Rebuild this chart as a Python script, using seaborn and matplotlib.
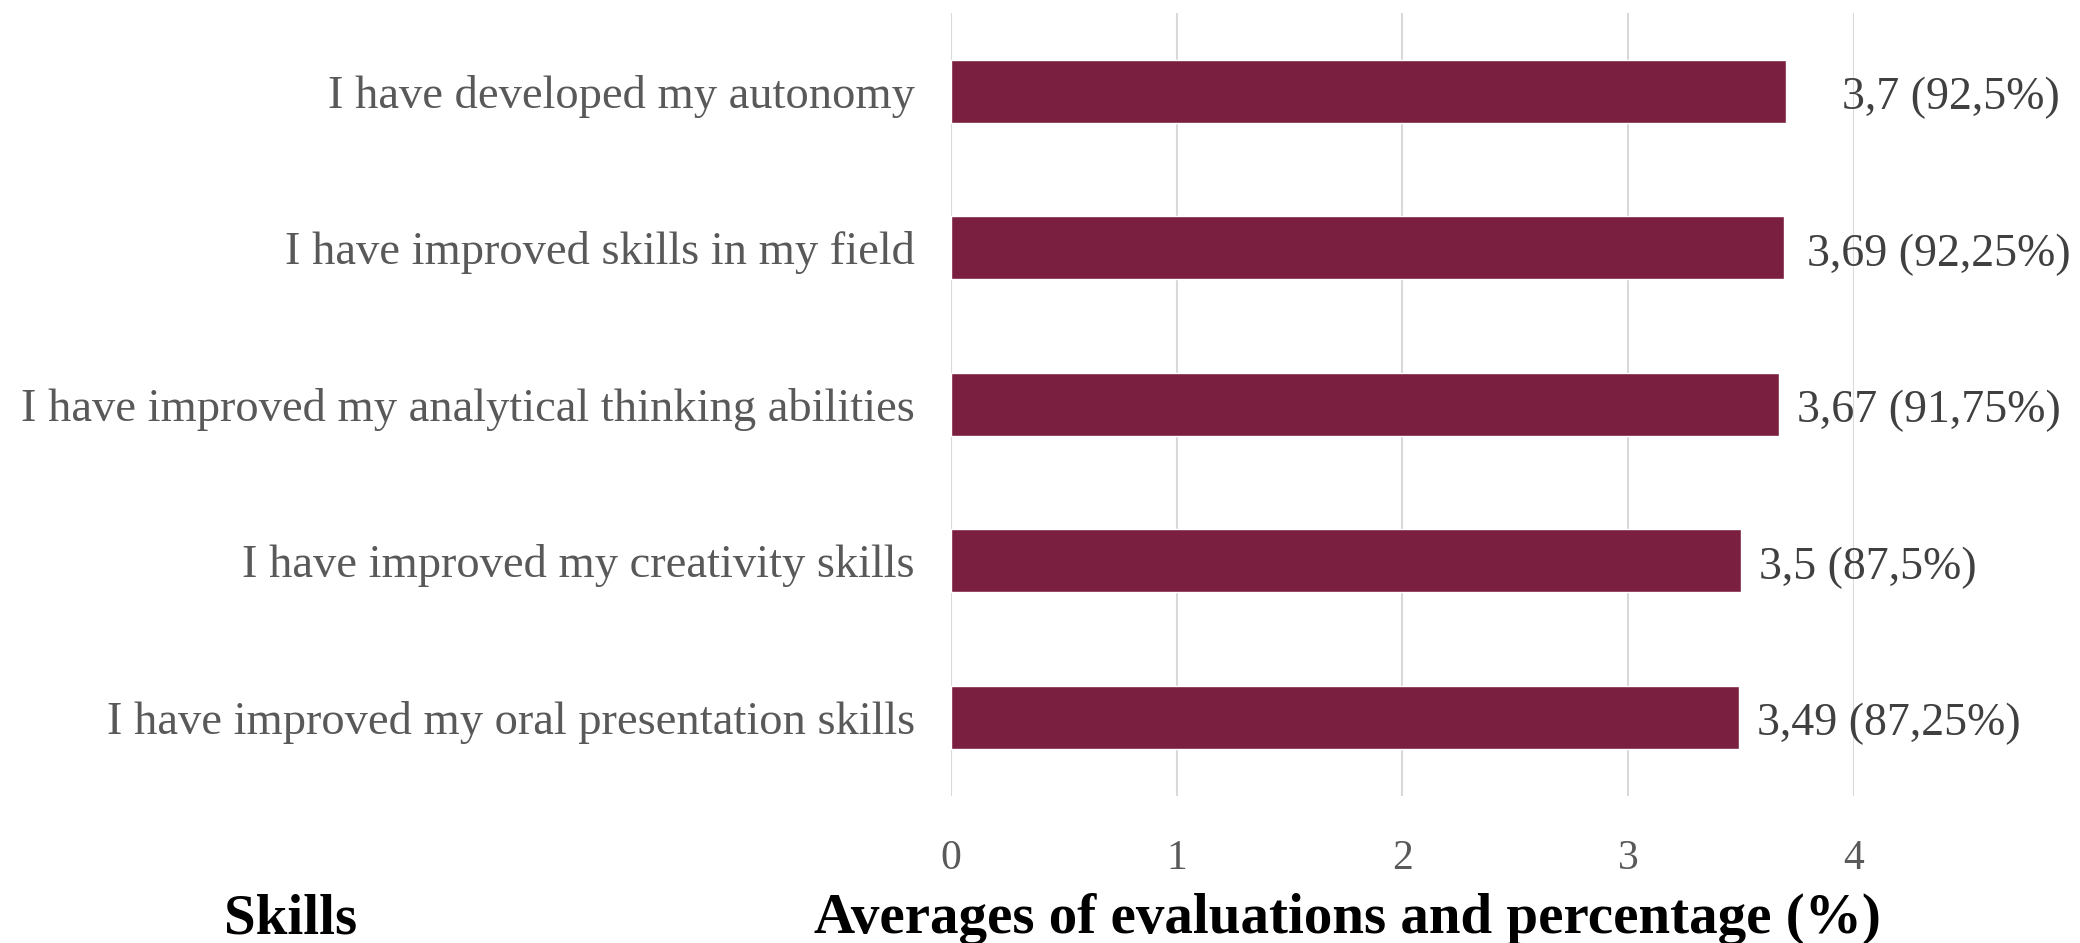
import matplotlib
matplotlib.use("Agg")
import matplotlib.pyplot as plt
import seaborn as sns
import pandas as pd

# Survey results: mean self-evaluation (0-4 scale) and share of the maximum
skills = [
    "I have developed my autonomy",
    "I have improved skills in my field",
    "I have improved my analytical thinking abilities",
    "I have improved my creativity skills",
    "I have improved my oral presentation skills",
]
means = [3.7, 3.69, 3.67, 3.5, 3.49]
percentages = [92.5, 92.25, 91.75, 87.5, 87.25]
x_ticks = [0, 1, 2, 3, 4]

df = pd.DataFrame({"skill": skills, "mean": means})

sns.set_style("white")
plt.rcParams["font.family"] = ["Liberation Serif", "DejaVu Serif"]

BAR = "#7a1f40"
GREY = "#595959"
DARK = "#404040"

fig = plt.figure(figsize=(20.8, 9.43), dpi=100)
ax = fig.add_axes([0.4572, 0.1564, 0.4341, 0.8298])

sns.barplot(data=df, x="mean", y="skill", orient="h", color=BAR,
            width=0.4, saturation=1, ax=ax)

ax.set_xlim(0, 4)
ax.set_ylim(4.5, -0.5)
ax.set_xticks(x_ticks)
ax.set_xticklabels([str(t) for t in x_ticks])
ax.xaxis.grid(True, color="#d9d9d9", linewidth=1.5)
ax.yaxis.grid(False)
ax.set_axisbelow(True)
for s in ax.spines.values():
    s.set_visible(False)
ax.tick_params(axis="both", length=0)
ax.tick_params(axis="y", pad=26, labelsize=33.5, labelcolor=GREY)
ax.tick_params(axis="x", pad=32, labelsize=30, labelcolor=GREY)
ax.set_xlabel("")
ax.set_ylabel("")

# Value labels: "mean (percentage%)" with decimal commas
label_pad_pt = [40, 16.5, 13, 13, 13]
for i, (m, p) in enumerate(zip(means, percentages)):
    txt = f"{m:g}".replace(".", ",") + " (" + f"{p:g}".replace(".", ",") + "%)"
    ax.annotate(txt, xy=(m, i), xytext=(label_pad_pt[i], -5),
                textcoords="offset points", ha="left", va="center",
                fontsize=33, color=DARK, annotation_clip=False)

fig.text(0.1396, 0.0106, "Skills", ha="center", va="baseline",
         fontsize=41, fontweight="bold", color="black")
fig.text(0.648, 0.0106, "Averages of evaluations and percentage (%)",
         ha="center", va="baseline", fontsize=41, fontweight="bold",
         color="black")

fig.savefig("out.png", dpi=100)
